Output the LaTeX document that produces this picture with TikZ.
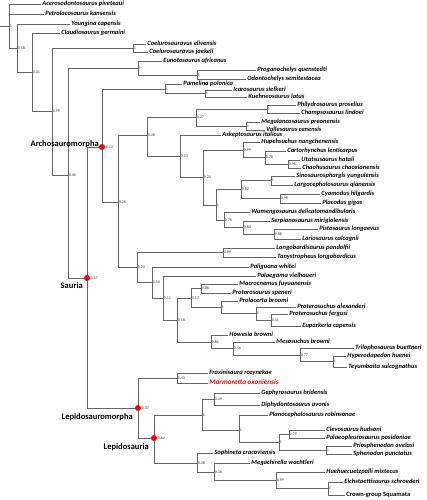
\documentclass[tikz,border=0pt]{standalone}
\usepackage{fontspec}
\newfontfamily\taxfont{Carlito}

\begin{document}
\begin{tikzpicture}[x=1pt,y=-1pt,
  branch/.style={line width=0.6pt,black!60},
  taxon/.style={anchor=west,inner sep=1.2pt,text height=4.2pt,text depth=1.2pt,font=\taxfont\bfseries\itshape\fontsize{6.5}{7.5}\selectfont},
  supp/.style={anchor=west,inner sep=0.7pt,font=\taxfont\fontsize{4}{5}\selectfont,black!80},
  clade/.style={inner sep=0pt,font=\taxfont\bfseries\fontsize{8.5}{9}\selectfont},
  dot/.style={circle,fill=red,inner sep=0pt,minimum size=6pt}]
\useasboundingbox (0,0) rectangle (427,500);

\node[taxon] (acero) at (41,4) {Acerosodontosaurus piveteaui};
\node[taxon] (petro) at (44,14) {Petrolacosaurus kansensis};
\node[taxon] (young) at (70,24) {Youngina capensis};
\node[taxon] (claud) at (60,33) {Claudiosaurus germaini};
\node[taxon] (coelel) at (146,44) {Coelurosauravus elivensis};
\node[taxon] (coelja) at (148,52) {Coelurosauravus jaekeli};
\node[taxon] (eunot) at (162,61) {Eunotosaurus africanus};
\node[taxon] (progan) at (256,70) {Proganochelys quenstedti};
\node[taxon] (odont) at (246,79) {Odontochelys semitestacea};
\node[taxon] (pamel) at (182,84) {Pamelina polonica};
\node[taxon] (icaro) at (232,90) {Icarosaurus siefkeri};
\node[taxon] (kuehn) at (247,97) {Kuehneosaurus latus};
\node[taxon] (phily) at (296,105) {Philydrosaurus proselius};
\node[taxon] (champ) at (300,113) {Champsosaurus lindoei};
\node[taxon] (megal) at (260,122) {Megalancosaurus preonensis};
\node[taxon] (valle) at (265,130) {Vallesaurus cenensis};
\node[taxon] (askep) at (221,135) {Askeptosaurus italicus};
\node[taxon] (hupeh) at (260,142) {Hupehsuchus nangchenensis};
\node[taxon] (carto) at (286,151) {Cartorhynchus lenticarpus};
\node[taxon] (utats) at (300,160) {Utatsusaurus hataii};
\node[taxon] (chaoh) at (301,168) {Chaohusaurus chaoxianensis};
\node[taxon] (sinos) at (295,176) {Sinosaurosphargis yunguiensis};
\node[taxon] (largo) at (293,185) {Largocephalosaurus qianensis};
\node[taxon] (cyamo) at (320,194) {Cyamodus hilgardis};
\node[taxon] (placo) at (321,203) {Placodus gigas};
\node[taxon] (wumen) at (250,212) {Wumengosaurus delicatomandibularis};
\node[taxon] (serpi) at (270,221) {Serpianosaurus mirigiolensis};
\node[taxon] (pisto) at (318,229) {Pistosaurus longaevus};
\node[taxon] (lario) at (301,239) {Lariosaurus calcagnii};
\node[taxon] (lango) at (275,248) {Langobardisaurus pandolfii};
\node[taxon] (tanys) at (276,257) {Tanystropheus longobardicus};
\node[taxon] (palig) at (249,267) {Paliguana whitei};
\node[taxon] (palae) at (256,276) {Palaegama vielhaueri};
\node[taxon] (macro) at (238,284) {Macrocnemus fuyuanensis};
\node[taxon] (proto) at (231,293) {Protorosaurus speneri};
\node[taxon] (prola) at (238,301) {Prolacerta broomi};
\node[taxon] (pteal) at (296,307) {Proterosuchus alexanderi};
\node[taxon] (ptefe) at (288,314) {Proterosuchus fergusi};
\node[taxon] (eupar) at (301,326) {Euparkeria capensis};
\node[taxon] (howes) at (228,335) {Howesia browni};
\node[taxon] (mesos) at (275,342) {Mesosuchus browni};
\node[taxon] (trilo) at (354,348) {Trilophosaurus buettneri};
\node[taxon] (hyper) at (346,356) {Hyperodapedon huenei};
\node[taxon] (teyum) at (347,367) {Teyumbaita sulcognathus};
\node[taxon] (fraxi) at (208,373) {Fraxinisaura rozynekae};
\node[taxon,text=red,font=\taxfont\bfseries\itshape\fontsize{7.2}{8}\selectfont] (marmo) at (208,383) {Marmoretta oxoniensis};
\node[taxon] (gephy) at (260,393) {Gephyrosaurus bridensis};
\node[taxon] (diphy) at (260,405) {Diphydontosaurus avonis};
\node[taxon] (plano) at (268,415) {Planocephalosaurus robinsonae};
\node[taxon] (clevo) at (325,430) {Clevosaurus hudsoni};
\node[taxon] (palpl) at (325,438) {Palaeopleurosaurus posidoniae};
\node[taxon] (prios) at (352,446) {Priosphenodon avelasi};
\node[taxon] (sphen) at (352,454) {Sphenodon punctatus};
\node[taxon] (sophi) at (213,453) {Sophineta cracoviensis};
\node[taxon] (megac) at (250,463) {Megachirella wachtleri};
\node[taxon] (huehu) at (325,472) {Huehuecuetzpalli mixtecus};
\node[taxon] (eichs) at (343,482) {Eichstaettisaurus schroederi};
\node[taxon,font=\taxfont\bfseries\fontsize{6.5}{7.5}\selectfont] (crown) at (345,495) {Crown-group Squamata};

\coordinate (base) at (0,26);
\coordinate (R) at (9,26); \node[supp] (sR) at (R) {1};
\coordinate (X) at (17,48); \node[supp] (sX) at (X) {0.58};
\coordinate (Y) at (32,72); \node[supp] (sY) at (Y) {0.31};
\coordinate (Z) at (52,111); \node[supp] (sZ) at (Z) {0.99};
\coordinate (C1) at (133,48); \node[supp] (sC1) at (C1) {1};
\coordinate (W) at (68,175); \node[supp] (sW) at (W) {0.46};
\coordinate (E1) at (138,68); \node[supp] (sE1) at (E1) {1};
\coordinate (T) at (197,75); \node[supp] (sT) at (T) {1};
\coordinate (S) at (87,278);
\coordinate (A) at (102,147);
\coordinate (PK) at (165,89); \node[supp] (sPK) at (PK) {1};
\coordinate (IK) at (205,93.5); \node[supp] (sIK) at (IK) {1};
\coordinate (B) at (118,202); \node[supp] (sB) at (B) {0.25};
\coordinate (N08) at (147,135.5); \node[supp] (sN08) at (N08) {0.08};
\coordinate (N27) at (196,117); \node[supp] (sN27) at (N27) {0.27};
\coordinate (PC) at (267,109); \node[supp] (sPC) at (PC) {1};
\coordinate (MV) at (246,126); \node[supp] (sMV) at (MV) {1};
\coordinate (N53) at (180,156); \node[supp] (sN53) at (N53) {0.53};
\coordinate (N24) at (203,177); \node[supp] (sN24) at (N24) {0.24};
\coordinate (N99) at (243,150); \node[supp] (sN99) at (N99) {0.99};
\coordinate (N78) at (265,157.5); \node[supp] (sN78) at (N78) {0.78};
\coordinate (N98) at (288,164); \node[supp] (sN98) at (N98) {0.98};
\coordinate (N1s) at (216,205); \node[supp] (sN1s) at (N1s) {1};
\coordinate (N82) at (241,189.5); \node[supp] (sN82) at (N82) {0.82};
\coordinate (NSL) at (271,180.5); \node[supp] (sNSL) at (NSL) {1};
\coordinate (NCP) at (280,198.5); \node[supp] (sNCP) at (NCP) {0.98};
\coordinate (N76) at (224,220); \node[supp] (sN76) at (N76) {0.76};
\coordinate (N83) at (243,227.5); \node[supp] (sN83) at (N83) {0.83};
\coordinate (N88) at (274,234); \node[supp] (sN88) at (N88) {0.88};
\coordinate (N20) at (137,267.5); \node[supp] (sN20) at (N20) {0.20};
\coordinate (LT) at (223,252.5); \node[supp] (sLT) at (LT) {0.99};
\coordinate (N50) at (152,282.5); \node[supp] (sN50) at (N50) {0.50};
\coordinate (N11) at (163,298); \node[supp] (sN11) at (N11) {0.11};
\coordinate (N18) at (177,320); \node[supp] (sN18) at (N18) {0.18};
\coordinate (N17) at (191,298); \node[supp] (sN17) at (N17) {0.17};
\coordinate (N86) at (201,288.5); \node[supp] (sN86) at (N86) {0.86};
\coordinate (N1p) at (221,307); \node[supp] (sN1p) at (N1p) {1};
\coordinate (N1q) at (256,313.5); \node[supp] (sN1q) at (N1q) {1};
\coordinate (N41) at (271,320); \node[supp] (sN41) at (N41) {0.41};
\coordinate (N81) at (211,342); \node[supp] (sN81) at (N81) {0.81};
\coordinate (N46) at (233,348.5); \node[supp] (sN46) at (N46) {0.46};
\coordinate (N77) at (300,355); \node[supp] (sN77) at (N77) {0.77};
\coordinate (N1t) at (333,361.5); \node[supp] (sN1t) at (N1t) {1};
\coordinate (L) at (138,408);
\coordinate (N43) at (177,378); \node[supp] (sN43) at (N43) {0.43};
\coordinate (LS) at (154,438);
\coordinate (R1) at (202,415); \node[supp] (sR1) at (R1) {1};
\coordinate (N49) at (214,399); \node[supp] (sN49) at (N49) {0.49};
\coordinate (N1x) at (239,430); \node[supp] (sN1x) at (N1x) {1};
\coordinate (N79) at (289,434); \node[supp] (sN79) at (N79) {0.79};
\coordinate (N1y) at (279,442); \node[supp] (sN1y) at (N1y) {1};
\coordinate (NPS) at (326,450); \node[supp] (sNPS) at (NPS) {1};
\coordinate (N38) at (197,463); \node[supp] (sN38) at (N38) {0.38};
\coordinate (N36) at (214,472); \node[supp] (sN36) at (N36) {0.36};
\coordinate (N99b) at (276,480); \node[supp] (sN99b) at (N99b) {0.99};
\coordinate (N1z) at (328,488.5); \node[supp] (sN1z) at (N1z) {1};

\draw[branch] (base) -- (R);
\draw[branch] (R) |- (acero) (R) |- (petro) (R) |- (X);
\draw[branch] (X) |- (young) (X) |- (Y);
\draw[branch] (Y) |- (claud) (Y) |- (Z);
\draw[branch] (Z) |- (C1) (Z) |- (W);
\draw[branch] (C1) |- (coelel) (C1) |- (coelja);
\draw[branch] (W) |- (E1) (W) |- (S);
\draw[branch] (E1) |- (eunot) (E1) |- (T);
\draw[branch] (T) |- (progan) (T) |- (odont);
\draw[branch] (S) |- (A) (S) |- (L);
\draw[branch] (A) |- (PK) (A) |- (B);
\draw[branch] (PK) |- (pamel) (PK) |- (IK);
\draw[branch] (IK) |- (icaro) (IK) |- (kuehn);
\draw[branch] (B) |- (N08) (B) |- (N20);
\draw[branch] (N08) |- (N27) (N08) |- (N53);
\draw[branch] (N27) |- (PC) (N27) |- (MV);
\draw[branch] (PC) |- (phily) (PC) |- (champ);
\draw[branch] (MV) |- (megal) (MV) |- (valle);
\draw[branch] (N53) |- (askep) (N53) |- (N24);
\draw[branch] (N24) |- (N99) (N24) |- (N1s);
\draw[branch] (N99) |- (hupeh) (N99) |- (N78);
\draw[branch] (N78) |- (carto) (N78) |- (N98);
\draw[branch] (N98) |- (utats) (N98) |- (chaoh);
\draw[branch] (N1s) |- (N82) (N1s) |- (N76);
\draw[branch] (N82) |- (NSL) (N82) |- (NCP);
\draw[branch] (NSL) |- (sinos) (NSL) |- (largo);
\draw[branch] (NCP) |- (cyamo) (NCP) |- (placo);
\draw[branch] (N76) |- (wumen) (N76) |- (N83);
\draw[branch] (N83) |- (serpi) (N83) |- (N88);
\draw[branch] (N88) |- (pisto) (N88) |- (lario);
\draw[branch] (N20) |- (LT) (N20) |- (N50);
\draw[branch] (LT) |- (lango) (LT) |- (tanys);
\draw[branch] (N50) |- (palig) (N50) |- (N11);
\draw[branch] (N11) |- (palae) (N11) |- (N18);
\draw[branch] (N18) |- (N17) (N18) |- (N81);
\draw[branch] (N17) |- (N86) (N17) |- (N1p);
\draw[branch] (N86) |- (macro) (N86) |- (proto);
\draw[branch] (N1p) |- (prola) (N1p) |- (N1q);
\draw[branch] (N1q) |- (pteal) (N1q) |- (N41);
\draw[branch] (N41) |- (ptefe) (N41) |- (eupar);
\draw[branch] (N81) |- (howes) (N81) |- (N46);
\draw[branch] (N46) |- (mesos) (N46) |- (N77);
\draw[branch] (N77) |- (trilo) (N77) |- (N1t);
\draw[branch] (N1t) |- (hyper) (N1t) |- (teyum);
\draw[branch] (L) |- (N43) (L) |- (LS);
\draw[branch] (N43) |- (fraxi) (N43) |- (marmo);
\draw[branch] (LS) |- (R1) (LS) |- (N38);
\draw[branch] (R1) |- (N49) (R1) |- (N1x);
\draw[branch] (N49) |- (gephy) (N49) |- (diphy);
\draw[branch] (N1x) |- (plano) (N1x) |- (N1y);
\draw[branch] (N1y) |- (N79) (N1y) |- (NPS);
\draw[branch] (N79) |- (clevo) (N79) |- (palpl);
\draw[branch] (NPS) |- (prios) (NPS) |- (sphen);
\draw[branch] (N38) |- (sophi) (N38) |- (N36);
\draw[branch] (N36) |- (megac) (N36) |- (N99b);
\draw[branch] (N99b) |- (huehu) (N99b) |- (N1z);
\draw[branch] (N1z) |- (eichs) (N1z) |- (crown);

\node[dot] (dA) at (A) {}; \node[supp,xshift=3pt] (sA) at (A) {0.13};
\node[dot] (dS) at (S) {}; \node[supp,xshift=3pt] (sS) at (S) {0.17};
\node[dot] (dL) at (L) {}; \node[supp,xshift=3pt] (sL) at (L) {0.37};
\node[dot] (dLS) at (LS) {}; \node[supp,xshift=3pt] (sLS) at (LS) {0.62};

\node[clade,anchor=base east] (archo) at (99,146) {Archosauromorpha};
\node[clade,anchor=base east] (sauria) at (83,288) {Sauria};
\node[clade,anchor=base east] (lepmor) at (133,419) {Lepidosauromorpha};
\node[clade,anchor=base east] (lepsau) at (149,449) {Lepidosauria};
\end{tikzpicture}
\end{document}
